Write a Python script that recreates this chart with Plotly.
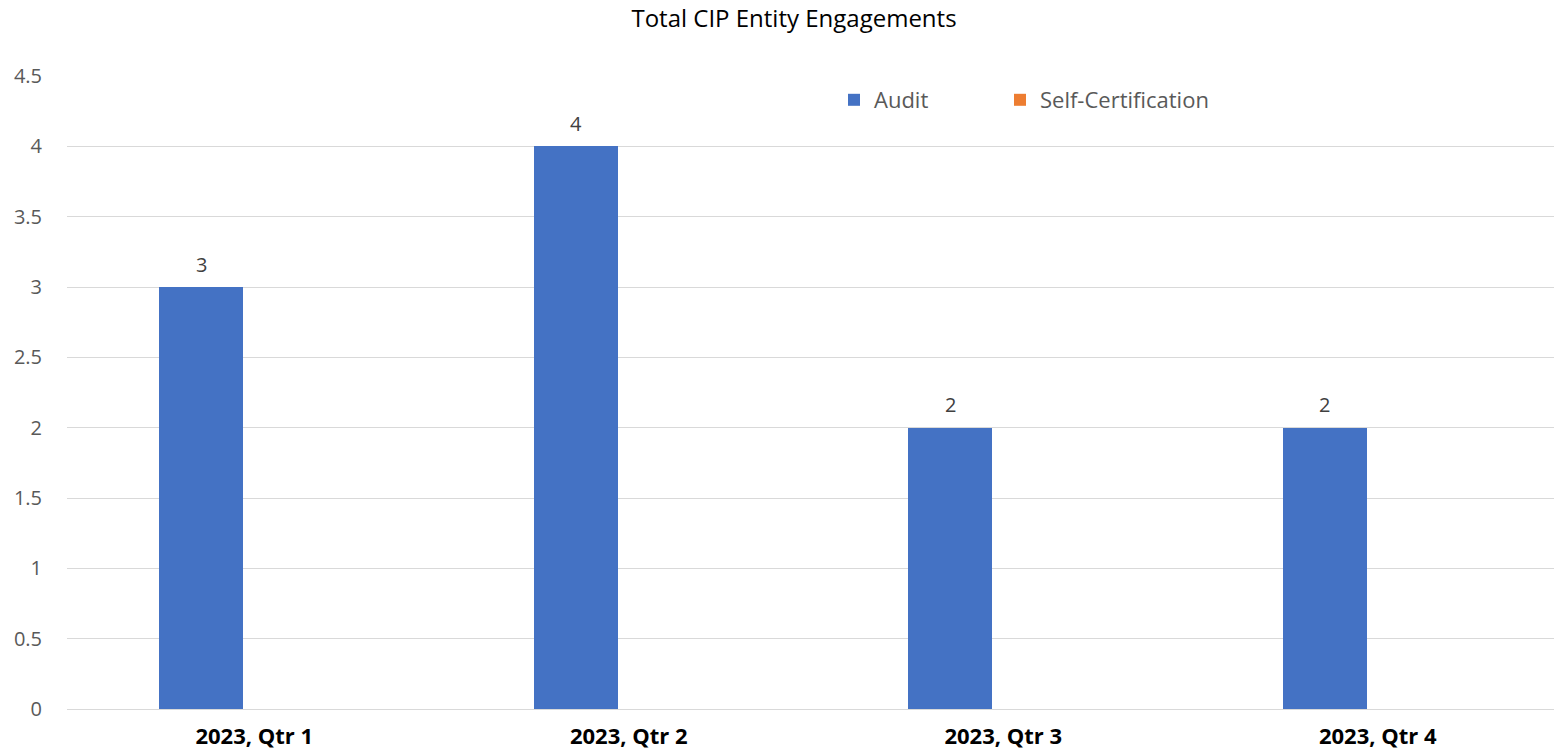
import plotly.graph_objects as go

categories = ["2023, Qtr 1", "2023, Qtr 2", "2023, Qtr 3", "2023, Qtr 4"]
audit = [3, 4, 2, 2]
self_cert = [0, 0, 0, 0]

W, H = 1554, 756
L, R, T, B = 67, 0, 76, 47
FONT = "Open Sans, sans-serif"
plot_w = W - L - R
plot_h = H - T - B

fig = go.Figure()
fig.add_trace(go.Bar(
    name="Audit", x=categories, y=audit,
    marker=dict(color="#4472C4", line=dict(width=0)),
    width=0.224, offset=-0.254, legend="legend",
))
fig.add_trace(go.Bar(
    name="Self-Certification", x=categories, y=self_cert,
    marker=dict(color="#ED7D31", line=dict(width=0)),
    width=0.224, offset=-0.030, legend="legend2",
))

# value labels above the Audit bars
for cat, v in zip(categories, audit):
    fig.add_annotation(x=cat, y=v, text=str(v), showarrow=False,
                       xshift=-0.142 * 374.5, yshift=23, yanchor="middle",
                       font=dict(size=20, color="#404040", family=FONT))

legend_common = dict(orientation="h", xanchor="left", yanchor="middle",
                     y=1 - (100 - T) / plot_h,
                     font=dict(size=22, color="#595959", family=FONT),
                     bgcolor="rgba(0,0,0,0)")

fig.update_layout(
    width=W, height=H,
    margin=dict(l=L, r=R, t=T, b=B, pad=0),
    paper_bgcolor="white", plot_bgcolor="white",
    font=dict(family=FONT, color="#595959", size=19),
    title=dict(text="Total CIP Entity Engagements", x=794 / W, xanchor="center",
               y=1 - 19 / H, yanchor="middle",
               font=dict(size=24, color="#000000", family=FONT)),
    showlegend=True,
    legend=dict(x=(834 - L) / plot_w, **legend_common),
    legend2=dict(x=(1000 - L) / plot_w, **legend_common),
    bargap=0,
    xaxis=dict(range=[-0.5, -0.5 + plot_w / 374.5], showgrid=False, zeroline=False,
               showline=False, ticks="",
               tickfont=dict(size=22, color="#000000", family=FONT, weight="bold"),
               ticklabelstandoff=12),
    yaxis=dict(range=[0, 4.5], dtick=0.5, showgrid=True, gridcolor="#D9D9D9",
               gridwidth=1, zeroline=True, zerolinecolor="#D9D9D9", zerolinewidth=1,
               showline=False, ticks="", ticklabelstandoff=24,
               tickfont=dict(size=20, color="#595959", family=FONT)),
)

fig.write_html("out.html")
